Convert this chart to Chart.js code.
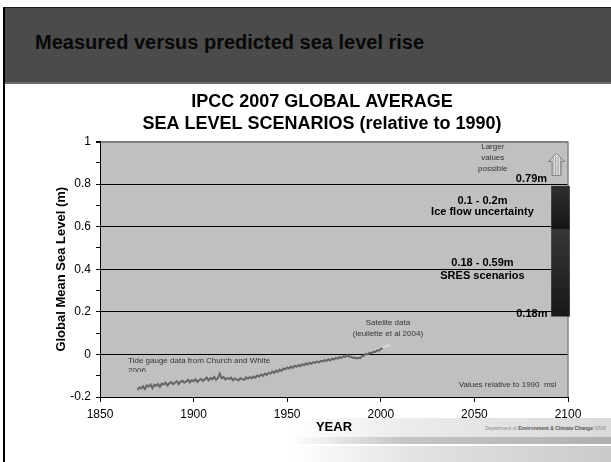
<!DOCTYPE html>
<html>
<head>
<meta charset="utf-8">
<script src="https://cdn.jsdelivr.net/npm/chart.js@4.4.1/dist/chart.umd.min.js"></script>
<style>
  html, body { margin: 0; padding: 0; background: #fff; }
  #slide { position: relative; width: 611px; height: 462px; overflow: hidden; font-family: "Liberation Sans", Arial, sans-serif; }
  #edge { position: absolute; left: 3px; top: 7px; width: 2px; height: 455px; background: #000; }
  #head { position: absolute; left: 4px; top: 7px; width: 607px; height: 74px; background: #4b4b4b; border-top: 1px solid #1a1a1a; border-bottom: 2px solid #6a6a6a; }
  #head h1 { position: absolute; left: 31px; top: 24px; margin: 0; font-size: 20px; line-height: 20px; font-weight: bold; color: #080808; white-space: nowrap; }
  .band { position: absolute; }
  #bandA { left: 290px; top: 418px; width: 321px; height: 19px; background: linear-gradient(to right, rgba(240,240,240,0), #ececec 35%, #d9d9d9); }
  #bandB { left: 290px; top: 437px; width: 321px; height: 7px; background: linear-gradient(to right, rgba(200,200,200,0), #c4c4c4 35%, #b0b0b0); }
  #bandC { left: 290px; top: 446px; width: 321px; height: 16px; background: linear-gradient(to right, rgba(235,235,235,0), #e2e2e2 40%, #cacaca); }
  #dept { position: absolute; right: 5px; top: 425px; font-size: 5px; color: #8a8a8a; white-space: nowrap; }
  #dept b { color: #555; }
  canvas { position: absolute; left: 0; top: 0; }
</style>
</head>
<body>
<div id="slide">
  <div id="head"><h1>Measured versus predicted sea level rise</h1></div>
  <div id="edge"></div>
  <div class="band" id="bandA"></div>
  <div class="band" id="bandB"></div>
  <div class="band" id="bandC"></div>
  <div id="dept">Department of <b>Environment &amp; Climate Change</b> NSW</div>
  <canvas id="chart" width="611" height="462"></canvas>
</div>
<script>
// Axis labels
const xTickLabels = ['1850', '1900', '1950', '2000', '2050', '2100'];
const yTickLabels = ['-0.2', '0', '0.2', '0.4', '0.6', '0.8', '1'];

// Tide gauge record (Church and White 2006), annual values from 1870, metres
const tideStart = 1870;
const tideGauge = [
  -0.166, -0.155, -0.160, -0.150, -0.163, -0.146, -0.151, -0.141, -0.158, -0.143,
  -0.147, -0.139, -0.153, -0.137, -0.141, -0.132, -0.146, -0.136, -0.130, -0.140,
  -0.133, -0.126, -0.139, -0.129, -0.124, -0.133, -0.128, -0.119, -0.131, -0.121,
  -0.126, -0.117, -0.129, -0.120, -0.115, -0.124, -0.117, -0.109, -0.122, -0.111,
  -0.116, -0.106, -0.119, -0.110, -0.090, -0.112, -0.106, -0.118, -0.111, -0.115,
  -0.109, -0.121, -0.113, -0.117, -0.122, -0.112, -0.116, -0.119, -0.108, -0.114,
  -0.106, -0.113, -0.104, -0.109, -0.099, -0.104, -0.095, -0.101, -0.090, -0.096,
  -0.086, -0.091, -0.081, -0.087, -0.076, -0.082, -0.071, -0.077, -0.066, -0.070,
  -0.061, -0.066, -0.057, -0.063, -0.053, -0.058, -0.050, -0.055, -0.046, -0.051,
  -0.042, -0.047, -0.039, -0.044, -0.036, -0.040, -0.033, -0.037, -0.030, -0.034,
  -0.026, -0.031, -0.023, -0.028, -0.020, -0.024, -0.016, -0.020, -0.013, -0.016,
  -0.009, -0.012, -0.004, -0.010, -0.011, -0.017, -0.015, -0.019, -0.016, -0.018,
  -0.008, -0.006, 0.003, 0.000, 0.008, 0.006, 0.013, 0.012, 0.019, 0.018,
  0.027, 0.029
];

// Satellite altimetry (Leuliette et al 2004), annual values from 1993, metres
const satStart = 1993;
const satellite = [0.004, 0.010, 0.012, 0.017, 0.019, 0.024, 0.026, 0.031, 0.034, 0.036, 0.040, 0.042, 0.045];

// IPCC 2007 projections for 2100, metres relative to 1990
const projectionYear = 2096;
const sresRange = [0.18, 0.59];
const iceFlowRange = [0.59, 0.79];

// Text notes placed in data coordinates
const notes = [
  { text: 'Larger', x: 2059.8, y: 0.974, font: '8px "Liberation Sans", Arial', color: '#333', align: 'center' },
  { text: 'values', x: 2059.8, y: 0.922, font: '8px "Liberation Sans", Arial', color: '#333', align: 'center' },
  { text: 'possible', x: 2059.8, y: 0.871, font: '8px "Liberation Sans", Arial', color: '#333', align: 'center' },
  { text: '0.79m', x: 2088.8, y: 0.823, font: 'bold 11px "Liberation Sans", Arial', color: '#000', align: 'right' },
  { text: '0.1 - 0.2m', x: 2054.3, y: 0.723, font: 'bold 11px "Liberation Sans", Arial', color: '#000', align: 'center' },
  { text: 'Ice flow uncertainty', x: 2054.3, y: 0.669, font: 'bold 11px "Liberation Sans", Arial', color: '#000', align: 'center' },
  { text: '0.18 - 0.59m', x: 2054.3, y: 0.429, font: 'bold 11px "Liberation Sans", Arial', color: '#000', align: 'center' },
  { text: 'SRES scenarios', x: 2054.3, y: 0.367, font: 'bold 11px "Liberation Sans", Arial', color: '#000', align: 'center' },
  { text: '0.18m', x: 2089, y: 0.189, font: 'bold 11px "Liberation Sans", Arial', color: '#000', align: 'right' },
  { text: 'Satelite data', x: 2003.8, y: 0.148, font: '8px "Liberation Sans", Arial', color: '#333', align: 'center' },
  { text: '(leuliette et al 2004)', x: 2003.8, y: 0.095, font: '8px "Liberation Sans", Arial', color: '#333', align: 'center' },
  { text: 'Tide gauge data from Church and White', x: 1865, y: -0.031, font: '8px "Liberation Sans", Arial', color: '#333', align: 'left' },
  { text: '2006', x: 1865, y: -0.078, font: '8px "Liberation Sans", Arial', color: '#333', align: 'left', clipY: -0.083 },
  { text: 'Values relative to 1990  msl', x: 2093.8, y: -0.144, font: '8px "Liberation Sans", Arial', color: '#333', align: 'right' }
];

// "larger values possible" arrow: tip and foot in data coordinates
const arrowMark = { x: 2093.9, top: 0.944, bottom: 0.84 };

const tidePoints = tideGauge.map((v, i) => ({ x: tideStart + i, y: v }));
const satPoints = satellite.map((v, i) => ({ x: satStart + i, y: v }));

function barGradient(range, topColor, bottomColor) {
  return (ctx) => {
    const chart = ctx.chart;
    if (!chart.chartArea) return bottomColor;
    const y = chart.scales.y;
    const g = chart.ctx.createLinearGradient(0, y.getPixelForValue(range[1]), 0, y.getPixelForValue(range[0]));
    g.addColorStop(0, topColor);
    g.addColorStop(1, bottomColor);
    return g;
  };
}

// grey plot area with a grey frame on its right edge
const plotBackground = {
  id: 'plotBackground',
  beforeDraw(chart) {
    const { ctx, chartArea: a } = chart;
    ctx.save();
    ctx.fillStyle = '#c0c0c0';
    ctx.fillRect(a.left, a.top, a.width, a.height);
    ctx.restore();
  },
  beforeDatasetsDraw(chart) {
    const { ctx, chartArea: a } = chart;
    ctx.save();
    ctx.strokeStyle = '#858585';
    ctx.lineWidth = 1.5;
    ctx.beginPath();
    ctx.moveTo(a.right, a.top);
    ctx.lineTo(a.right, a.bottom);
    ctx.stroke();
    ctx.restore();
  }
};

// centre the two-line title over the slide body rather than the padded box
const titleShift = {
  id: 'titleShift',
  afterLayout(chart) {
    const t = chart.titleBlock;
    if (t) { t.left += 36; t.width -= 36; }
  }
};

const chartNotes = {
  id: 'chartNotes',
  afterDatasetsDraw(chart) {
    const { ctx, scales: { x, y } } = chart;
    ctx.save();
    ctx.textBaseline = 'middle';
    notes.forEach(n => {
      ctx.save();
      const px = x.getPixelForValue(n.x);
      const py = y.getPixelForValue(n.y);
      if (n.clipY !== undefined) {
        ctx.beginPath();
        ctx.rect(0, 0, chart.width, y.getPixelForValue(n.clipY));
        ctx.clip();
      }
      ctx.font = n.font;
      ctx.fillStyle = n.color;
      ctx.textAlign = n.align;
      ctx.fillText(n.text, px, py);
      ctx.restore();
    });

    // up arrow with hatched fill
    const cx = x.getPixelForValue(arrowMark.x);
    const top = y.getPixelForValue(arrowMark.top);
    const bot = y.getPixelForValue(arrowMark.bottom);
    const headH = 8, headW = 8, shaftW = 4.5;
    const outline = () => {
      ctx.beginPath();
      ctx.moveTo(cx, top);
      ctx.lineTo(cx + headW, top + headH);
      ctx.lineTo(cx + shaftW, top + headH);
      ctx.lineTo(cx + shaftW, bot);
      ctx.lineTo(cx - shaftW, bot);
      ctx.lineTo(cx - shaftW, top + headH);
      ctx.lineTo(cx - headW, top + headH);
      ctx.closePath();
    };
    outline();
    ctx.fillStyle = '#dedede';
    ctx.fill();
    ctx.save();
    outline();
    ctx.clip();
    ctx.strokeStyle = '#a0a0a0';
    ctx.lineWidth = 1;
    for (let sx = cx - headW + 2; sx < cx + headW; sx += 2.5) {
      ctx.beginPath();
      ctx.moveTo(sx, top + 3);
      ctx.lineTo(sx, bot);
      ctx.stroke();
    }
    ctx.restore();
    outline();
    ctx.strokeStyle = '#808080';
    ctx.lineWidth = 1;
    ctx.stroke();
    ctx.restore();
  }
};

new Chart(document.getElementById('chart'), {
  type: 'line',
  data: {
    datasets: [
      {
        label: 'Ice flow uncertainty',
        type: 'bar',
        data: [{ x: projectionYear, y: iceFlowRange }],
        backgroundColor: barGradient(iceFlowRange, '#2e2e2e', '#151515'),
        borderWidth: 0,
        barThickness: 18,
        grouped: false,
        clip: false,
        order: 3
      },
      {
        label: 'SRES scenarios',
        type: 'bar',
        data: [{ x: projectionYear, y: sresRange }],
        backgroundColor: barGradient(sresRange, '#363636', '#181818'),
        borderWidth: 0,
        barThickness: 18,
        grouped: false,
        clip: false,
        order: 3
      },
      {
        label: 'Satellite data',
        data: satPoints,
        borderColor: '#dadada',
        borderWidth: 2,
        pointRadius: 0,
        tension: 0,
        order: 2
      },
      {
        label: 'Tide gauge data',
        data: tidePoints,
        borderColor: '#666666',
        borderWidth: 2,
        pointRadius: 0,
        tension: 0,
        order: 1
      }
    ]
  },
  options: {
    responsive: false,
    animation: false,
    devicePixelRatio: 1,
    layout: { padding: { left: 40, right: 43, top: 0, bottom: 0 } },
    plugins: {
      legend: { display: false },
      tooltip: { enabled: false },
      title: {
        display: true,
        text: ['IPCC 2007 GLOBAL AVERAGE', 'SEA LEVEL SCENARIOS (relative to 1990)'],
        color: '#000',
        font: { family: '"Liberation Sans", Arial, sans-serif', size: 18, weight: 'bold', lineHeight: 1.25 },
        padding: { top: 90.5, bottom: 6 }
      }
    },
    scales: {
      x: {
        type: 'linear',
        min: 1850,
        max: 2100,
        offset: false,
        afterFit(scale) { scale.height = 65; },
        ticks: {
          stepSize: 50,
          autoSkip: false,
          maxRotation: 0,
          padding: 5,
          color: '#000',
          font: { family: '"Liberation Sans", Arial, sans-serif', size: 12 },
          callback: (v, i) => xTickLabels[i]
        },
        grid: {
          offset: false,
          drawOnChartArea: false,
          tickLength: 5,
          tickColor: '#000',
          color: '#000'
        },
        border: { display: true, color: '#000', width: 1 },
        title: {
          display: true,
          text: 'YEAR',
          color: '#000',
          font: { family: '"Liberation Sans", Arial, sans-serif', size: 13, weight: 'bold' },
          padding: { top: 0, bottom: 27 }
        }
      },
      y: {
        type: 'linear',
        min: -0.2,
        max: 1,
        afterFit(scale) { scale.width = 60; },
        ticks: {
          stepSize: 0.1,
          autoSkip: false,
          padding: 5,
          color: '#000',
          font: { family: '"Liberation Sans", Arial, sans-serif', size: 12 },
          callback: (v, i) => (i % 2 === 0 ? yTickLabels[i / 2] : '')
        },
        grid: {
          tickLength: 4,
          tickColor: '#000',
          color: (c) => {
            if (!c.tick) return 'rgba(0,0,0,0)';
            const k = Math.round(c.tick.value * 10);
            if (k === 10) return '#808080';
            if (k % 2 !== 0 || k === -2) return 'rgba(0,0,0,0)';
            return '#000';
          },
          lineWidth: (c) => (c.tick && Math.round(c.tick.value * 10) === 10 ? 2 : 1)
        },
        border: { display: true, color: '#000', width: 1 },
        title: {
          display: true,
          text: 'Global Mean Sea Level (m)',
          color: '#000',
          font: { family: '"Liberation Sans", Arial, sans-serif', size: 13, weight: 'bold' },
          padding: { top: 14, bottom: 0 }
        }
      }
    }
  },
  plugins: [plotBackground, titleShift, chartNotes]
});
</script>
</body>
</html>
